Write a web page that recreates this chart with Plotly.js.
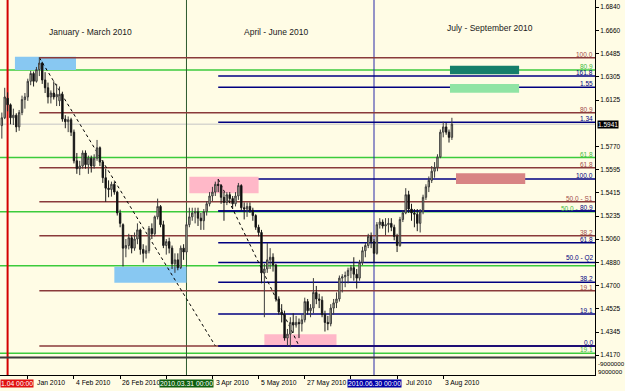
<!DOCTYPE html>
<html><head><meta charset="utf-8">
<script src="https://cdn.plot.ly/plotly-3.0.1.min.js"></script>
<style>html,body{margin:0;padding:0;background:#FFFCE5;} #chart{width:625px;height:391px;}</style>
</head><body><div id="chart"></div>
<script>
// ---------- candles (GBP/USD daily) ----------
const dates = [
 '2009-12-30','2009-12-31',
 '2010-01-04','2010-01-05','2010-01-06','2010-01-07','2010-01-08','2010-01-11','2010-01-12','2010-01-13','2010-01-14','2010-01-15',
 '2010-01-18','2010-01-19','2010-01-20','2010-01-21','2010-01-22','2010-01-25','2010-01-26','2010-01-27','2010-01-28','2010-01-29',
 '2010-02-01','2010-02-02','2010-02-03','2010-02-04','2010-02-05','2010-02-08','2010-02-09','2010-02-10','2010-02-11','2010-02-12',
 '2010-02-15','2010-02-16','2010-02-17','2010-02-18','2010-02-19','2010-02-22','2010-02-23','2010-02-24','2010-02-25','2010-02-26',
 '2010-03-01','2010-03-02','2010-03-03','2010-03-04','2010-03-05','2010-03-08','2010-03-09','2010-03-10','2010-03-11','2010-03-12',
 '2010-03-15','2010-03-16','2010-03-17','2010-03-18','2010-03-19','2010-03-22','2010-03-23','2010-03-24','2010-03-25','2010-03-26',
 '2010-03-29','2010-03-30','2010-03-31',
 '2010-04-01','2010-04-02','2010-04-05','2010-04-06','2010-04-07','2010-04-08','2010-04-09','2010-04-12','2010-04-13','2010-04-14',
 '2010-04-15','2010-04-16','2010-04-19','2010-04-20','2010-04-21','2010-04-22','2010-04-23','2010-04-26','2010-04-27','2010-04-28',
 '2010-04-29','2010-04-30',
 '2010-05-03','2010-05-04','2010-05-05','2010-05-06','2010-05-07','2010-05-10','2010-05-11','2010-05-12','2010-05-13','2010-05-14',
 '2010-05-17','2010-05-18','2010-05-19','2010-05-20','2010-05-21','2010-05-24','2010-05-25','2010-05-26','2010-05-27','2010-05-28',
 '2010-05-31',
 '2010-06-01','2010-06-02','2010-06-03','2010-06-04','2010-06-07','2010-06-08','2010-06-09','2010-06-10','2010-06-11','2010-06-14',
 '2010-06-15','2010-06-16','2010-06-17','2010-06-18','2010-06-21','2010-06-22','2010-06-23','2010-06-24','2010-06-25','2010-06-28',
 '2010-06-29','2010-06-30',
 '2010-07-01','2010-07-02','2010-07-05','2010-07-06','2010-07-07','2010-07-08','2010-07-09','2010-07-12','2010-07-13','2010-07-14',
 '2010-07-15','2010-07-16','2010-07-19','2010-07-20','2010-07-21','2010-07-22','2010-07-23','2010-07-26','2010-07-27','2010-07-28',
 '2010-07-29','2010-07-30',
 '2010-08-02','2010-08-03','2010-08-04','2010-08-05','2010-08-06'
];
const open = [
 1.5930,1.5990,
 1.6140,1.6090,1.5990,1.6010,1.5920,1.6030,1.6130,1.6150,1.6270,1.6330,1.6270,1.6360,1.6410,1.6280,1.6220,1.6150,1.6180,1.6150,1.6120,1.6170,
 1.5980,1.5960,1.5975,1.5880,1.5660,1.5600,1.5620,1.5720,1.5630,1.5680,1.5620,1.5680,1.5760,1.5650,1.5530,1.5450,1.5440,1.5480,1.5420,1.5260,
 1.5170,1.4990,1.5010,1.5070,1.4990,1.5060,1.5130,1.4980,1.4950,1.4970,1.5140,1.5100,1.5230,1.5310,1.5170,1.5010,1.5040,1.4990,1.4870,1.4900,1.4840,1.4990,1.4960,
 1.5170,1.5230,1.5260,1.5270,1.5220,1.5200,1.5270,1.5330,1.5390,1.5420,1.5480,1.5470,1.5380,1.5340,1.5400,1.5370,1.5330,1.5390,1.5470,1.5300,1.5290,1.5310,
 1.5280,1.5240,1.5150,1.5110,1.4800,1.4830,1.4900,1.4920,1.4860,1.4600,1.4500,1.4480,1.4300,1.4330,1.4420,1.4400,1.4420,1.4410,1.4440,1.4580,1.4510,
 1.4530,1.4650,1.4600,1.4590,1.4480,1.4420,1.4410,1.4530,1.4570,1.4600,1.4760,1.4770,1.4780,1.4820,1.4840,1.4790,1.4760,1.4880,1.4970,1.5010,1.5080,1.5040,
 1.4950,1.5170,1.5190,1.5160,1.5170,1.5180,1.5150,1.5080,1.5010,1.5210,1.5260,1.5400,1.5290,1.5260,1.5250,1.5180,1.5270,1.5380,1.5460,1.5510,1.5580,1.5610,
 1.5690,1.5880,1.5920,1.5880,1.5840
];
const high = [
 1.6030,1.6220,
 1.6185,1.6100,1.6060,1.6025,1.6050,1.6160,1.6180,1.6290,1.6350,1.6345,1.6380,1.6451,1.6420,1.6340,1.6260,1.6200,1.6270,1.6250,1.6230,1.6190,
 1.6010,1.6000,1.5990,1.5900,1.5720,1.5660,1.5740,1.5740,1.5700,1.5700,1.5710,1.5820,1.5770,1.5665,1.5600,1.5510,1.5500,1.5500,1.5430,1.5285,
 1.5180,1.5060,1.5100,1.5090,1.5110,1.5180,1.5140,1.5020,1.5010,1.5160,1.5180,1.5240,1.5370,1.5320,1.5200,1.5060,1.5070,1.5010,1.4950,1.4950,1.5010,1.5020,1.5190,
 1.5300,1.5300,1.5300,1.5300,1.5260,1.5290,1.5350,1.5420,1.5460,1.5500,1.5520,1.5480,1.5420,1.5420,1.5420,1.5390,1.5420,1.5490,1.5480,1.5340,1.5340,1.5340,
 1.5300,1.5250,1.5170,1.5130,1.4870,1.5030,1.4990,1.4950,1.4870,1.4620,1.4560,1.4510,1.4370,1.4460,1.4490,1.4470,1.4450,1.4480,1.4610,1.4600,1.4560,
 1.4760,1.4700,1.4640,1.4620,1.4510,1.4470,1.4560,1.4600,1.4650,1.4780,1.4790,1.4810,1.4840,1.4860,1.4920,1.4830,1.4900,1.5000,1.5030,1.5100,1.5110,1.5060,
 1.5190,1.5220,1.5210,1.5220,1.5220,1.5220,1.5170,1.5100,1.5230,1.5280,1.5450,1.5430,1.5330,1.5290,1.5290,1.5290,1.5400,1.5480,1.5540,1.5620,1.5650,1.5710,
 1.5900,1.5960,1.5950,1.5900,1.5990
];
const low = [
 1.5830,1.5980,
 1.6040,1.5940,1.5935,1.5880,1.5890,1.6010,1.6060,1.6120,1.6240,1.6230,1.6260,1.6310,1.6250,1.6180,1.6100,1.6100,1.6130,1.6080,1.6080,1.5960,
 1.5910,1.5880,1.5850,1.5640,1.5560,1.5550,1.5600,1.5600,1.5560,1.5570,1.5600,1.5660,1.5620,1.5490,1.5345,1.5380,1.5385,1.5400,1.5240,1.5150,
 1.4850,1.4920,1.4980,1.4950,1.4970,1.5020,1.4940,1.4880,1.4910,1.4950,1.5060,1.5080,1.5210,1.5150,1.4990,1.4940,1.4950,1.4830,1.4800,1.4820,1.4830,1.4900,1.4940,
 1.5150,1.5200,1.5180,1.5160,1.5130,1.5130,1.5240,1.5310,1.5350,1.5390,1.5420,1.5330,1.5200,1.5320,1.5340,1.5290,1.5310,1.5360,1.5280,1.5210,1.5230,1.5260,
 1.5200,1.5130,1.5080,1.4720,1.4460,1.4800,1.4830,1.4810,1.4580,1.4480,1.4420,1.4280,1.4240,1.4230,1.4340,1.4380,1.4300,1.4350,1.4420,1.4480,1.4460,
 1.4490,1.4560,1.4530,1.4460,1.4350,1.4360,1.4390,1.4480,1.4530,1.4580,1.4650,1.4690,1.4720,1.4760,1.4740,1.4680,1.4740,1.4860,1.4920,1.4990,1.4990,1.4880,
 1.4940,1.5140,1.5140,1.5090,1.5110,1.5120,1.5050,1.4960,1.5000,1.5190,1.5250,1.5260,1.5200,1.5150,1.5120,1.5110,1.5250,1.5360,1.5420,1.5490,1.5530,1.5580,
 1.5680,1.5840,1.5860,1.5800,1.5820
];
const close = [
 1.5990,1.6150,
 1.6090,1.5990,1.6010,1.5920,1.6030,1.6130,1.6150,1.6270,1.6330,1.6270,1.6360,1.6410,1.6280,1.6220,1.6150,1.6180,1.6150,1.6170,1.6170,1.5980,
 1.5960,1.5975,1.5880,1.5660,1.5600,1.5620,1.5720,1.5630,1.5680,1.5620,1.5680,1.5760,1.5650,1.5530,1.5450,1.5440,1.5480,1.5420,1.5260,1.5180,
 1.4990,1.5010,1.5070,1.4990,1.5060,1.5130,1.4980,1.4950,1.4970,1.5140,1.5100,1.5230,1.5310,1.5170,1.5010,1.5040,1.4990,1.4870,1.4900,1.4840,1.4990,1.4960,1.5170,
 1.5230,1.5260,1.5270,1.5220,1.5200,1.5270,1.5330,1.5390,1.5420,1.5480,1.5470,1.5380,1.5340,1.5400,1.5370,1.5330,1.5390,1.5470,1.5300,1.5290,1.5310,1.5280,
 1.5240,1.5150,1.5110,1.4800,1.4830,1.4900,1.4920,1.4860,1.4600,1.4500,1.4480,1.4300,1.4330,1.4420,1.4400,1.4420,1.4410,1.4440,1.4580,1.4510,1.4530,
 1.4650,1.4600,1.4590,1.4480,1.4420,1.4410,1.4530,1.4570,1.4600,1.4760,1.4770,1.4780,1.4820,1.4840,1.4790,1.4760,1.4880,1.4970,1.5010,1.5080,1.5040,1.4950,
 1.5170,1.5190,1.5160,1.5170,1.5180,1.5150,1.5080,1.5010,1.5210,1.5260,1.5400,1.5290,1.5260,1.5250,1.5180,1.5270,1.5380,1.5460,1.5510,1.5580,1.5610,1.5690,
 1.5880,1.5920,1.5880,1.5840,1.5941
];
const lastPrice = 1.5941;

// ---------- axes ----------
const xRange = ['2009-12-29 08:47', '2010-10-14 14:24'];
const yRange = [1.40166, 1.68937];
const yTickVals = [1.6840,1.6660,1.6485,1.6305,1.6125,1.5770,1.5595,1.5415,1.5235,1.5060,1.4880,1.4700,1.4525,1.4345,1.4170];
const yTickText = ['1.6840','1.6660','1.6485','1.6305','1.6125','1.5770','1.5595','1.5415','1.5235','1.5060','1.4880','1.4700','1.4525','1.4345','1.4170'];
const xTickDates = ['2010-01-13','2010-02-04','2010-02-26','2010-03-22','2010-04-13','2010-05-05','2010-05-27','2010-06-18','2010-07-12','2010-08-03'];
// visible part of each date label (the rest is hidden under the period boxes)
const xTickText = ['Jan 2010','4 Feb 2010','26 Feb 2010','','3 Apr 2010','5 May 2010','27 May 2010','','Jul 2010','3 Aug 2010'];
const xTickShift = [8,1,1,0,3,1,1,0,8,1];

// ---------- vertical period separators ----------
const vDates = ['2010-01-04','2010-03-31','2010-06-30'];
const vLabels = ['1.04 00:00','2010.03.31 00:00','2010.06.30 00:00'];
const vColors = ['#D40000','#2E5A2E','#2A2AA8'];
const vBoxColors = ['#E01010','#0E600E','#0000A8'];
const vWidths = [2,1,1];

// ---------- period titles ----------
const periodTitles = ['January - March 2010','April - June 2010','July - September 2010'];

// ---------- Fibonacci objects ----------
const brownLevels = [0, 19.1, 38.2, 50, 61.8, 80.9, 100];
const brownLabels = ['', '19.1', '38.2', '50.0 - S1', '61.8', '80.9', '100.0'];
const brownHigh = 1.6451, brownLow = 1.4240;
const brownStart = '2010-01-19', brownEnd = '2010-04-14';

const navyLevels = [0, 19.1, 38.2, 50, 61.8, 80.9, 100, 134, 155, 161.8];
const navyLabels = ['0.0', '19.1', '38.2', '50.0 - Q2', '61.8', '80.9', '100.0', '1.34', '1.55', '161.8'];
const navyHigh = 1.5520, navyLow = 1.4240;
const navyStart = '2010-04-15', navyEnd = '2010-05-25';

const greenLevels = [19.1, 38.2, 50, 61.8, 80.9];
const greenLabels = ['19.1', '', '50.0 -', '61.8', '80.9'];
const greenHigh = 1.7029, greenLow = 1.3511;

// ---------- rectangles ----------
const boxStart  = ['2010-01-06 13:00','2010-02-24','2010-04-01','2010-05-07','2010-08-05 08:00','2010-08-05 08:00','2010-08-09 10:00'];
const boxEnd    = ['2010-02-04 17:00','2010-03-31','2010-05-05','2010-06-11','2010-09-08 07:00','2010-09-08 07:00','2010-09-10 10:00'];
const boxTop    = [1.6459, 1.4848, 1.5538, 1.4330, 1.6390, 1.6249, 1.5564];
const boxBottom = [1.6357, 1.4725, 1.5411, 1.4247, 1.6324, 1.6183, 1.5482];
const boxColors = ['#88C8F2','#88C8F2','#FFB8C8','#FFB8C8','#157E6A','#90E4A4','#D88484'];

// ---------- colours ----------
const BROWN = '#8A3A3A', BROWN_TXT = '#A04C4C', NAVY = '#000080', GREEN = '#3CCB3C', GREEN_TXT = '#3DB83D';
const FONT = 'Liberation Sans, Arial, sans-serif';

const fibPrice = (lo, hi, lv) => lo + (hi - lo) * lv / 100;

const shapes = [];
const annotations = [];

navyLevels.forEach(lv => shapes.push({type:'line', layer:'below', xref:'x', yref:'y',
  x0:navyStart, x1:xRange[1], y0:fibPrice(navyLow,navyHigh,lv), y1:fibPrice(navyLow,navyHigh,lv),
  line:{color:NAVY, width:1.5}}));
boxStart.forEach((s,i) => shapes.push({type:'rect', layer:'below', xref:'x', yref:'y',
  x0:s, x1:boxEnd[i], y0:boxBottom[i], y1:boxTop[i], fillcolor:boxColors[i], line:{width:0}}));
shapes.push({type:'line', layer:'below', xref:'paper', yref:'y', x0:0, x1:1, y0:lastPrice, y1:lastPrice, line:{color:'#C4C4C4', width:1}});
brownLevels.forEach(lv => shapes.push({type:'line', layer:'below', xref:'x', yref:'y',
  x0:brownStart, x1:xRange[1], y0:fibPrice(brownLow,brownHigh,lv), y1:fibPrice(brownLow,brownHigh,lv),
  line:{color:BROWN, width:1.5}}));
shapes.push({type:'line', layer:'below', xref:'x', yref:'y', x0:navyStart, x1:xRange[1], y0:navyLow, y1:navyLow, line:{color:NAVY, width:1.5}});
greenLevels.forEach(lv => shapes.push({type:'line', layer:'below', xref:'paper', yref:'y',
  x0:0, x1:1, y0:fibPrice(greenLow,greenHigh,lv), y1:fibPrice(greenLow,greenHigh,lv),
  line:{color:GREEN, width:1.5}}));
shapes.push({type:'line', layer:'below', xref:'x', yref:'y', x0:navyStart, x1:xRange[1],
  y0:fibPrice(navyLow,navyHigh,80.9), y1:fibPrice(navyLow,navyHigh,80.9), line:{color:NAVY, width:1.5}});
shapes.push({type:'line', layer:'below', xref:'x', yref:'y', x0:brownStart, x1:brownEnd, y0:brownHigh, y1:brownLow, line:{color:'#000', width:1, dash:'dot'}});
shapes.push({type:'line', layer:'below', xref:'x', yref:'y', x0:navyStart, x1:navyEnd, y0:navyHigh, y1:navyLow, line:{color:'#000', width:1, dash:'dot'}});
vDates.forEach((d,i) => shapes.push({type:'line', layer:'below', xref:'x', yref:'paper', x0:d, x1:d, y0:0, y1:1, line:{color:vColors[i], width:vWidths[i]}}));
shapes.push({type:'line', layer:'above', xref:'paper', yref:'paper', x0:0, x1:1, y0:1-357.5/375, y1:1-357.5/375, line:{color:'#3A3A3A', width:2}});

// fib labels
const addFibLabels = (levels, labels, lo, hi, color, shift) => levels.forEach((lv,i) => {
  if (!labels[i]) return;
  annotations.push({xref:'paper', yref:'y', x:1, y:fibPrice(lo,hi,lv), xanchor:'right', yanchor:'bottom',
    xshift:(shift && shift[i]) || -1, yshift:-1, text:labels[i], showarrow:false, borderpad:0, font:{family:FONT, size:6.5, color:color}});
});
addFibLabels(greenLevels, greenLabels, greenLow, greenHigh, GREEN_TXT, [0,0,-16,0,0]);
addFibLabels(brownLevels, brownLabels, brownLow, brownHigh, BROWN_TXT);
addFibLabels(navyLevels, navyLabels, navyLow, navyHigh, NAVY);

// period titles
const titleX = [90/595, 276/595, 490/595];
const titleY = [1-32/375, 1-32/375, 1-28/375];
periodTitles.forEach((t,i) => annotations.push({xref:'paper', yref:'paper', x:titleX[i], y:titleY[i], text:t, showarrow:false,
  xanchor:'center', yanchor:'middle', font:{family:FONT, size:8.5, color:'#1A1A1A'}}));

// x date labels
xTickDates.forEach((d,i) => { if (!xTickText[i]) return; annotations.push({xref:'x', yref:'paper', x:d, y:0, xanchor:'left', yanchor:'top', yshift:-3, xshift:xTickShift[i],
  text:xTickText[i], showarrow:false, borderpad:0, font:{family:FONT, size:6.8, color:'#000'}}); });
// vertical line date boxes (first one sits at the left edge, clipped in the original)
vDates.forEach((d,i) => annotations.push(i === 0 ?
  {xref:'paper', yref:'paper', x:0, y:0, xanchor:'left', yanchor:'top', yshift:-4, text:vLabels[i], showarrow:false, borderpad:0,
   bgcolor:vBoxColors[i], font:{family:FONT, size:6.8, color:'#FFFFFF'}} :
  {xref:'x', yref:'paper', x:d, y:0, xanchor:'center', yanchor:'top', yshift:-4,
   text:vLabels[i], showarrow:false, borderpad:0, bgcolor:vBoxColors[i], font:{family:FONT, size:6.8, color:'#FFFFFF'}}));
// last price box
annotations.push({xref:'paper', yref:'y', x:1, y:lastPrice, xanchor:'left', yanchor:'middle', xshift:2,
  text:lastPrice.toFixed(4), showarrow:false, borderpad:0, bgcolor:'#000000', font:{family:FONT, size:6.5, color:'#FFFFFF'}});
// sub-window scale
annotations.push({xref:'paper', yref:'paper', x:1, y:1-363/375, xanchor:'left', yanchor:'middle', xshift:2, text:'-9000000', showarrow:false, borderpad:0, font:{family:FONT, size:6.2, color:'#000'}});
annotations.push({xref:'paper', yref:'paper', x:1, y:1-371/375, xanchor:'left', yanchor:'middle', xshift:2, text:'9000000', showarrow:false, borderpad:0, font:{family:FONT, size:6.2, color:'#000'}});

const trace = {
  type:'candlestick', x:dates, open:open, high:high, low:low, close:close,
  increasing:{line:{color:'#3C3C3C', width:1}, fillcolor:'#C2C2AA'},
  decreasing:{line:{color:'#1A1A1A', width:1}, fillcolor:'#000000'},
  whiskerwidth:0, hoverinfo:'skip', showlegend:false
};

const layout = {
  width:625, height:391,
  margin:{l:0, r:30, t:0, b:16, pad:0},
  paper_bgcolor:'#FFFCE5', plot_bgcolor:'#FFFCE5',
  showlegend:false,
  xaxis:{type:'date', range:xRange, rangebreaks:[{bounds:['sat','mon']},{values:['2010-01-01']}],
    rangeslider:{visible:false}, showgrid:false, zeroline:false, showline:true, linecolor:'#000', linewidth:1,
    ticks:'outside', ticklen:3, tickcolor:'#000', tickmode:'array', tickvals:xTickDates, showticklabels:false, fixedrange:true},
  yaxis:{side:'right', range:yRange, showgrid:false, zeroline:false, showline:true, linecolor:'#000', linewidth:1,
    ticks:'outside', ticklen:3, tickcolor:'#000', tickmode:'array', tickvals:yTickVals, ticktext:yTickText,
    tickfont:{family:FONT, size:6.5, color:'#000'}, fixedrange:true},
  shapes:shapes, annotations:annotations
};

Plotly.newPlot('chart', [trace], layout, {displayModeBar:false, staticPlot:true});
</script></body></html>
